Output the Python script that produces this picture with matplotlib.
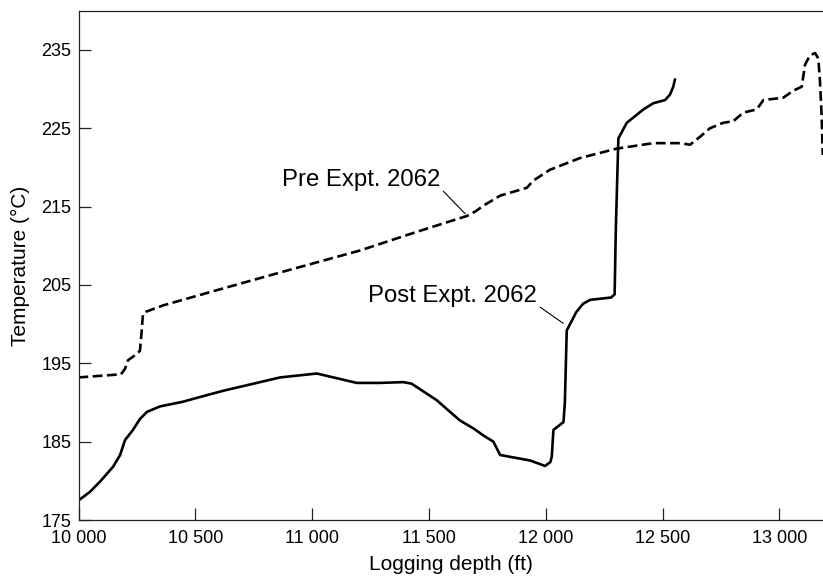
import numpy as np
import matplotlib
matplotlib.use("Agg")
import matplotlib.pyplot as plt

plt.rcParams['font.family'] = ['Liberation Sans', 'DejaVu Sans']

# pre-experiment temperature log (dashed)
pre_depth = [10000, 10182, 10199, 10212, 10250, 10263, 10270, 10276, 10290, 10363,
             10600, 10900, 11205, 11450, 11662, 11700, 11732, 11805, 11919, 11946,
             12018, 12147, 12304, 12461, 12575, 12618, 12660, 12703, 12760, 12803,
             12846, 12903, 12932, 13017, 13060, 13096, 13110, 13131, 13153, 13167,
             13174, 13181, 13186]
pre_temp = [193.2, 193.6, 194.3, 195.4, 196.2, 196.6, 199.0, 201.3, 201.6, 202.4,
            204.4, 206.9, 209.4, 211.8, 213.8, 214.4, 215.1, 216.4, 217.4, 218.3,
            219.7, 221.2, 222.4, 223.1, 223.1, 222.9, 223.9, 225.0, 225.7, 225.9,
            227.0, 227.4, 228.6, 228.9, 229.8, 230.3, 233.1, 234.3, 234.6, 233.9,
            231.0, 226.7, 221.6]

# post-experiment temperature log (solid)
post_depth = [10000, 10049, 10092, 10148, 10178, 10199, 10233, 10263, 10293, 10349,
              10447, 10520, 10620, 10863, 11020, 11063, 11191, 11291, 11391, 11426,
              11533, 11633, 11690, 11733, 11776, 11805, 11933, 11997, 12020, 12026,
              12033, 12076, 12082, 12090, 12111, 12130, 12160, 12190, 12280, 12295,
              12300, 12311, 12347, 12418, 12461, 12511, 12532, 12546, 12553]
post_temp = [177.5, 178.6, 179.9, 181.8, 183.3, 185.2, 186.5, 187.9, 188.8, 189.5,
             190.1, 190.7, 191.5, 193.2, 193.7, 193.4, 192.5, 192.5, 192.6, 192.4,
             190.3, 187.7, 186.7, 185.8, 185.0, 183.3, 182.6, 181.9, 182.4, 183.1,
             186.5, 187.5, 190.0, 199.2, 200.4, 201.5, 202.6, 203.1, 203.4, 203.8,
             212.0, 223.7, 225.7, 227.4, 228.2, 228.6, 229.3, 230.3, 231.2]

x_ticks = [10000, 10500, 11000, 11500, 12000, 12500, 13000]
x_labels = ['10 000', '10 500', '11 000', '11 500', '12 000', '12 500', '13 000']
y_ticks = [175, 185, 195, 205, 215, 225, 235]

fig = plt.figure(figsize=(8.23, 5.8), dpi=100)
ax = fig.add_axes([0.0954, 0.1034, 0.9046, 0.8781])

ax.plot(pre_depth, pre_temp, color='black', lw=1.9, dashes=(3.7, 1.7))
ax.plot(post_depth, post_temp, color='black', lw=1.9, solid_joinstyle='round')

ax.set_xlim(10000, 13187)
ax.set_ylim(175, 240)
ax.set_xticks(x_ticks)
ax.set_xticklabels(x_labels)
ax.set_yticks(y_ticks)
ax.tick_params(direction='in', length=8.5, width=0.9, labelsize=13, color='#222222')
ax.tick_params(axis='x', pad=7)
ax.tick_params(axis='y', pad=5)
ax.spines['right'].set_visible(False)
for s in ['left', 'top', 'bottom']:
    ax.spines[s].set_linewidth(0.9)
    ax.spines[s].set_color('#222222')

ax.set_xlabel('Logging depth (ft)', fontsize=15, labelpad=6)
ax.set_ylabel('Temperature (°C)', fontsize=15, labelpad=8)

# labels with leader lines
ax.annotate('Pre Expt. 2062', xy=(11655, 214.1), xytext=(11548, 217.6),
            ha='right', va='baseline', fontsize=17.2,
            arrowprops=dict(arrowstyle='-', lw=0.8, color='black',
                            shrinkA=0, shrinkB=0, relpos=(1.02, 0.0)))
ax.annotate('Post Expt. 2062', xy=(12075, 200.1), xytext=(11962, 202.8),
            ha='right', va='baseline', fontsize=17.2,
            arrowprops=dict(arrowstyle='-', lw=0.8, color='black',
                            shrinkA=0, shrinkB=0, relpos=(1.02, 0.0)))

fig.savefig('out.png', dpi=100)
